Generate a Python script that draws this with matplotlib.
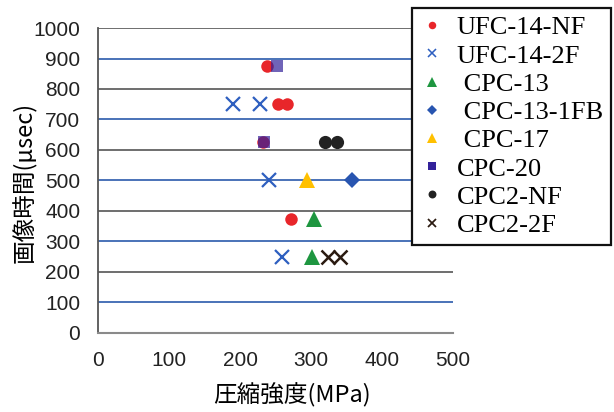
import matplotlib.pyplot as plt
from matplotlib.lines import Line2D

# Compressive strength (MPa) vs. imaging time (usec) for each mix
ufc14_nf_x = [238, 253, 266, 232, 272]
ufc14_nf_y = [875, 750, 750, 625, 375]
ufc14_2f_x = [190, 228, 241, 259]
ufc14_2f_y = [750, 750, 500, 250]
cpc13_x = [304, 301]
cpc13_y = [375, 250]
cpc13_1fb_x = [358]
cpc13_1fb_y = [500]
cpc17_x = [294]
cpc17_y = [500]
cpc20_x = [252, 234]
cpc20_y = [875, 625]
cpc2_nf_x = [320, 337]
cpc2_nf_y = [625, 625]
cpc2_2f_x = [324, 341]
cpc2_2f_y = [250, 250]

labels = ['UFC-14-NF', 'UFC-14-2F', ' CPC-13', ' CPC-13-1FB', ' CPC-17',
          'CPC-20', 'CPC2-NF', 'CPC2-2F']
y_ticks = list(range(0, 1001, 100))
x_ticks = list(range(0, 501, 100))

# (x, y, marker, color, size, edge width, alpha)
series = [
    (ufc14_nf_x, ufc14_nf_y, 'o', '#e8262a', 9, 0, 1.0),
    (ufc14_2f_x, ufc14_2f_y, 'x', '#2e5fc0', 10, 1.6, 1.0),
    (cpc13_x, cpc13_y, '^', '#1e9640', 11, 0, 1.0),
    (cpc13_1fb_x, cpc13_1fb_y, 'D', '#2855b0', 8.5, 0, 1.0),
    (cpc17_x, cpc17_y, '^', '#ffc000', 11, 0, 1.0),
    (cpc20_x, cpc20_y, 's', '#33229a', 8.5, 0, 0.7),
    (cpc2_nf_x, cpc2_nf_y, 'o', '#222222', 9.5, 0, 1.0),
    (cpc2_2f_x, cpc2_2f_y, 'x', '#2a1a10', 10, 1.8, 1.0),
]

tick_font = ['Liberation Sans', 'DejaVu Sans']
jp_font = ['Noto Sans CJK JP', 'DejaVu Sans']

fig = plt.figure(figsize=(6.14, 4.12), dpi=100)
ax = fig.add_axes([0.160, 0.192, 0.578, 0.740])

# alternating blue / grey horizontal grid lines
for v in y_ticks[1:]:
    col = '#4a72b8' if (v // 100) % 2 == 1 else '#6e6e6e'
    ax.axhline(v, color=col, lw=1.4, zorder=1)

handles = []
for (xs, ys, m, c, ms, mew, a), lab in zip(series, labels):
    ax.plot(xs, ys, linestyle='none', marker=m, color=c, markersize=ms,
            markeredgewidth=mew, alpha=a, zorder=3)
    handles.append(Line2D([], [], linestyle='none', marker=m, color=c,
                          markersize=ms * 0.6, markeredgewidth=max(mew * 0.7, 0)))

ax.set_xlim(0, 500)
ax.set_ylim(0, 1000)
ax.set_xticks(x_ticks)
ax.set_yticks(y_ticks)
ax.tick_params(axis='x', length=0, pad=13)
ax.tick_params(axis='y', length=0, pad=13)
for t in ax.get_xticklabels() + ax.get_yticklabels():
    t.set_family(tick_font)
    t.set_fontsize(15)
    t.set_color('#222222')

for side in ['top', 'right']:
    ax.spines[side].set_visible(False)
ax.spines['left'].set_color('#555555')
ax.spines['bottom'].set_color('#8a8a8a')
ax.spines['left'].set_linewidth(1.3)
ax.spines['bottom'].set_linewidth(1.5)

ax.set_xlabel('圧縮強度(MPa)', family=jp_font, fontsize=17)
ax.set_ylabel('画像時間(µsec)', family=jp_font, fontsize=17)
ax.xaxis.set_label_coords((292 - 98) / 355, -(383 - 333) / 305)
ax.yaxis.set_label_coords(-(98 - 37) / 355, (333 - 182) / 305)

leg = fig.legend(handles, labels, loc='upper left',
                 bbox_to_anchor=(412 / 614, 1 - 8 / 412),
                 prop={'family': ['Liberation Serif'], 'size': 19},
                 frameon=True, fancybox=False, framealpha=1,
                 edgecolor='#111111', borderpad=0.3, labelspacing=0.18,
                 handlelength=0.9, handletextpad=0.5, borderaxespad=0)
leg.get_frame().set_linewidth(1.6)

fig.savefig('out.png', dpi=100)
